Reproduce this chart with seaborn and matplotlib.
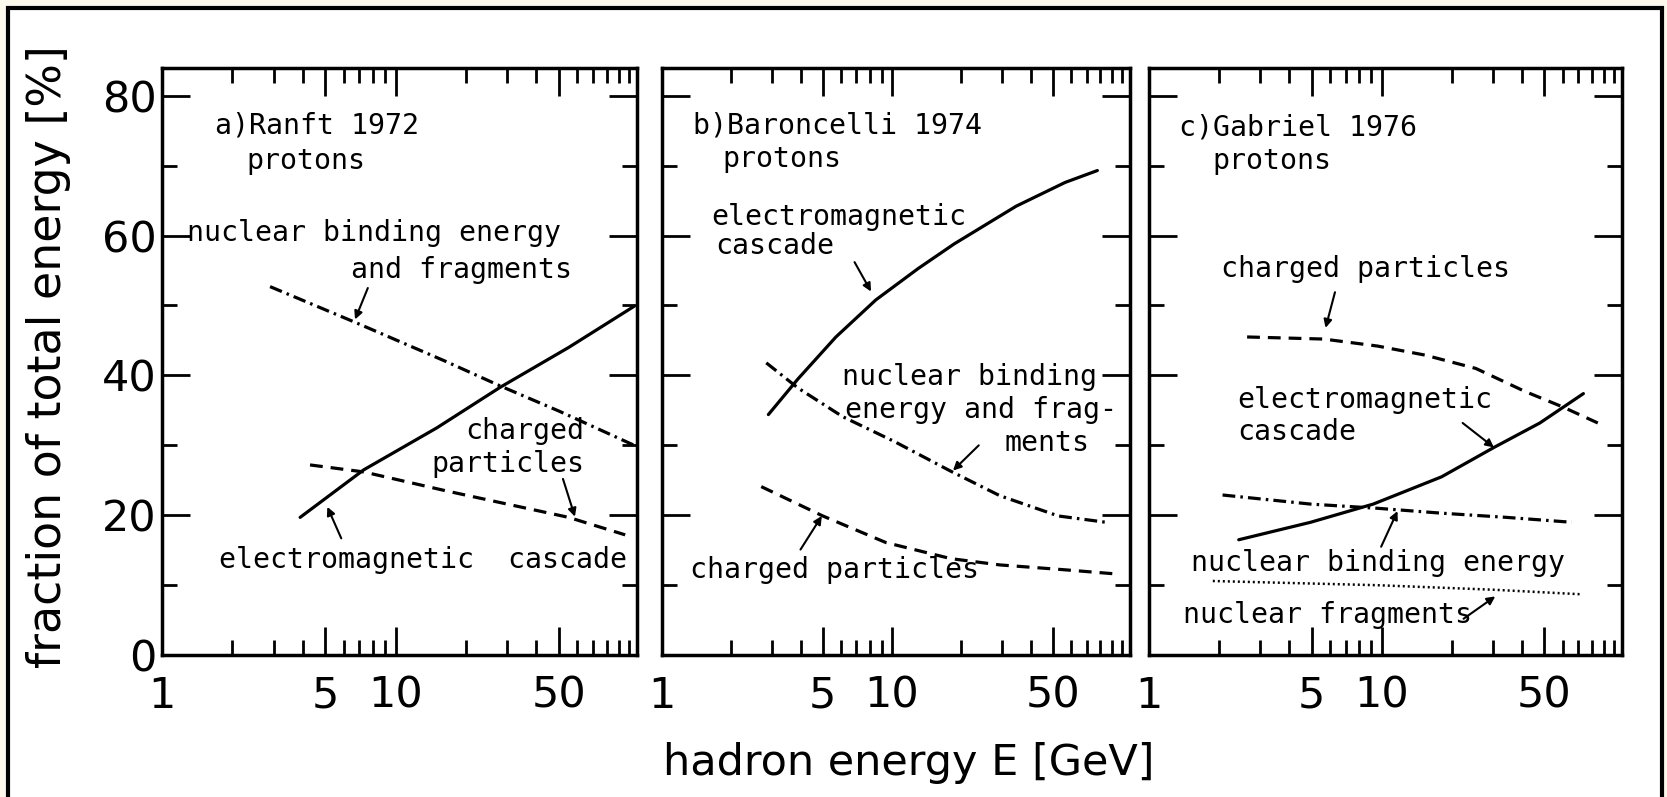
import matplotlib
matplotlib.use("Agg")
import matplotlib.pyplot as plt
from matplotlib.patches import Rectangle
from matplotlib.ticker import FixedLocator, NullFormatter
import seaborn as sns

# ---- data (E in GeV, fraction in %) ----
# a) Ranft 1972
a_em_E = [3.9, 7.3, 15, 28, 55, 105]
a_em_pct = [19.7, 26.5, 32.5, 38.3, 44.0, 49.9]
a_nb_E = [2.9, 6.7, 16.4, 28, 50, 105]
a_nb_pct = [52.7, 47.6, 42.0, 38.5, 34.9, 30.0]
a_ch_E = [4.3, 7.3, 16.4, 32, 55, 96]
a_ch_pct = [27.2, 26.2, 23.5, 21.4, 19.7, 17.2]

# b) Baroncelli 1974
b_em_E = [2.9, 3.9, 5.7, 8.5, 13, 18.6, 34.6, 56.5, 78]
b_em_pct = [34.4, 39.5, 45.5, 50.8, 55.3, 58.8, 64.2, 67.6, 69.3]
b_nb_E = [2.84, 3.9, 6.1, 10.3, 18, 29.4, 52.8, 85]
b_nb_pct = [41.8, 38.2, 34.1, 30.5, 26.3, 22.8, 19.9, 19.0]
b_ch_E = [2.7, 5.0, 9.4, 18, 29.4, 56.5, 95]
b_ch_pct = [24.1, 19.9, 16.1, 13.8, 12.9, 12.2, 11.6]

# c) Gabriel 1976
c_ch_E = [2.64, 5.64, 9.6, 15.4, 25.4, 41.4, 60, 85]
c_ch_pct = [45.5, 45.2, 44.2, 42.9, 41.0, 37.7, 35.5, 33.2]
c_em_E = [2.43, 4.95, 9.2, 18.1, 30.4, 47.9, 73.7]
c_em_pct = [16.5, 19.0, 21.6, 25.5, 29.7, 33.2, 37.4]
c_nb_E = [2.07, 4.95, 9.6, 18.1, 34.5, 65.6]
c_nb_pct = [22.9, 21.6, 21.0, 20.3, 19.7, 19.0]
c_nf_E = [1.88, 9.6, 30.4, 72.4]
c_nf_pct = [10.6, 10.0, 9.35, 8.7]

x_ticks = [1, 5, 10, 50]
x_minor = [2, 3, 4, 6, 7, 8, 9, 20, 30, 40, 60, 70, 80, 90, 100]
y_ticks = [0, 20, 40, 60, 80]
y_minor = [10, 30, 50, 70]

sns.set_theme(style="white")
plt.rcParams["font.family"] = ["DejaVu Sans"]
plt.rcParams["text.color"] = "black"
plt.rcParams["xtick.color"] = "black"
plt.rcParams["ytick.color"] = "black"

SOLID = "-"
DASHED = (0, (4, 2.5))
DASHDOT = (0, (4, 1.6, 0.8, 1.6))
DOTTED = (0, (0.8, 1.2))
MONO = "DejaVu Sans Mono"
TXT = 20.3

fig = plt.figure(figsize=(16.67, 7.97), dpi=100)
fig.patch.set_facecolor("#fcf8ec")
fig.patches.append(Rectangle((8 / 1667, -0.05), 1654 / 1667, 1 - 8 / 797 + 0.05,
                             transform=fig.transFigure, facecolor="white",
                             edgecolor="black", lw=3, zorder=-10))

bottom, height = 0.178, 0.737
ax_a = fig.add_axes([0.0972, bottom, 0.285, height])
ax_b = fig.add_axes([0.3971, bottom, 0.2807, height])
ax_c = fig.add_axes([0.6893, bottom, 0.2837, height])


def curve(ax, E, pct, ls, lw=2.3):
    sns.lineplot(x=E, y=pct, ax=ax, color="black", linestyle=ls, lw=lw,
                 estimator=None, sort=False)


def note(ax, x, y, s, ha="left"):
    ax.text(x, y, s, family=MONO, fontsize=TXT, ha=ha, va="center",
            color="black")


def pointer(ax, tail, tip):
    ax.annotate("", xy=tip, xytext=tail,
                arrowprops=dict(arrowstyle="-|>", color="black", lw=1.5,
                                mutation_scale=12, shrinkA=0, shrinkB=0))


for ax in (ax_a, ax_b, ax_c):
    ax.set_xscale("log")
    ax.set_xlim(1, 108)
    ax.set_ylim(0, 84)
    for s in ax.spines.values():
        s.set_color("black")
        s.set_linewidth(2.5)

curve(ax_a, a_em_E, a_em_pct, SOLID)
curve(ax_a, a_nb_E, a_nb_pct, DASHDOT)
curve(ax_a, a_ch_E, a_ch_pct, DASHED)
curve(ax_b, b_em_E, b_em_pct, SOLID)
curve(ax_b, b_nb_E, b_nb_pct, DASHDOT)
curve(ax_b, b_ch_E, b_ch_pct, DASHED)
curve(ax_c, c_ch_E, c_ch_pct, DASHED)
curve(ax_c, c_em_E, c_em_pct, SOLID)
curve(ax_c, c_nb_E, c_nb_pct, DASHDOT)
curve(ax_c, c_nf_E, c_nf_pct, DOTTED, lw=1.8)

for ax in (ax_a, ax_b, ax_c):
    ax.xaxis.set_major_locator(FixedLocator(x_ticks))
    ax.xaxis.set_minor_locator(FixedLocator(x_minor))
    ax.xaxis.set_minor_formatter(NullFormatter())
    ax.set_xticklabels([str(t) for t in x_ticks])
    ax.set_yticks(y_ticks)
    ax.yaxis.set_minor_locator(FixedLocator(y_minor))
    ax.tick_params(which="both", direction="in", top=True, right=True,
                   bottom=True, left=True, color="black", width=2)
    ax.tick_params(which="major", length=20, labelsize=31, pad=4)
    ax.tick_params(which="minor", length=11)
    ax.tick_params(axis="x", which="major", pad=14)
    ax.set_xlabel("")
    ax.set_ylabel("")
    ax.set_facecolor("white")
ax_b.set_yticklabels([])
ax_c.set_yticklabels([])

# panel a annotations
note(ax_a, 1.68, 75.7, "a)Ranft 1972")
note(ax_a, 2.29, 70.7, "protons")
note(ax_a, 1.28, 60.4, "nuclear binding energy")
note(ax_a, 57, 55.1, "and fragments", ha="right")
pointer(ax_a, (7.6, 52.5), (6.7, 48.0))
note(ax_a, 64, 32.0, "charged", ha="right")
note(ax_a, 64, 27.4, "particles", ha="right")
pointer(ax_a, (52, 25.2), (58.5, 19.8))
note(ax_a, 1.75, 13.6, "electromagnetic  cascade")
pointer(ax_a, (5.85, 16.7), (5.1, 21.2))

# panel b annotations
note(ax_b, 1.36, 75.8, "b)Baroncelli 1974")
note(ax_b, 1.83, 71.0, "protons")
note(ax_b, 1.63, 62.7, "electromagnetic")
note(ax_b, 1.71, 58.5, "cascade")
pointer(ax_b, (6.87, 56.2), (8.1, 52.0))
note(ax_b, 6.03, 39.8, "nuclear binding")
note(ax_b, 6.22, 35.1, "energy and frag-")
note(ax_b, 72, 30.3, "ments", ha="right")
pointer(ax_b, (23.8, 30.0), (18.4, 26.4))
note(ax_b, 1.32, 12.2, "charged particles")
pointer(ax_b, (4.0, 15.1), (4.95, 19.9))

# panel c annotations
note(ax_c, 1.34, 75.5, "c)Gabriel 1976")
note(ax_c, 1.88, 70.6, "protons")
note(ax_c, 2.04, 55.2, "charged particles")
pointer(ax_c, (6.3, 51.9), (5.74, 46.8))
note(ax_c, 2.39, 36.5, "electromagnetic")
note(ax_c, 2.39, 31.9, "cascade")
pointer(ax_c, (22.3, 33.2), (30.4, 29.7))
note(ax_c, 1.52, 13.2, "nuclear binding energy")
pointer(ax_c, (9.95, 15.5), (11.7, 20.6))
note(ax_c, 1.40, 5.8, "nuclear fragments")
pointer(ax_c, (22.5, 5.2), (30.8, 8.4))

fig.text(0.029, 0.553, "fraction of total energy [%]", rotation=90,
         ha="center", va="center", fontsize=33)
fig.text(0.545, 0.043, "hadron energy E [GeV]", ha="center", va="center",
         fontsize=31)

fig.savefig("out.png", dpi=100, facecolor=fig.get_facecolor())
